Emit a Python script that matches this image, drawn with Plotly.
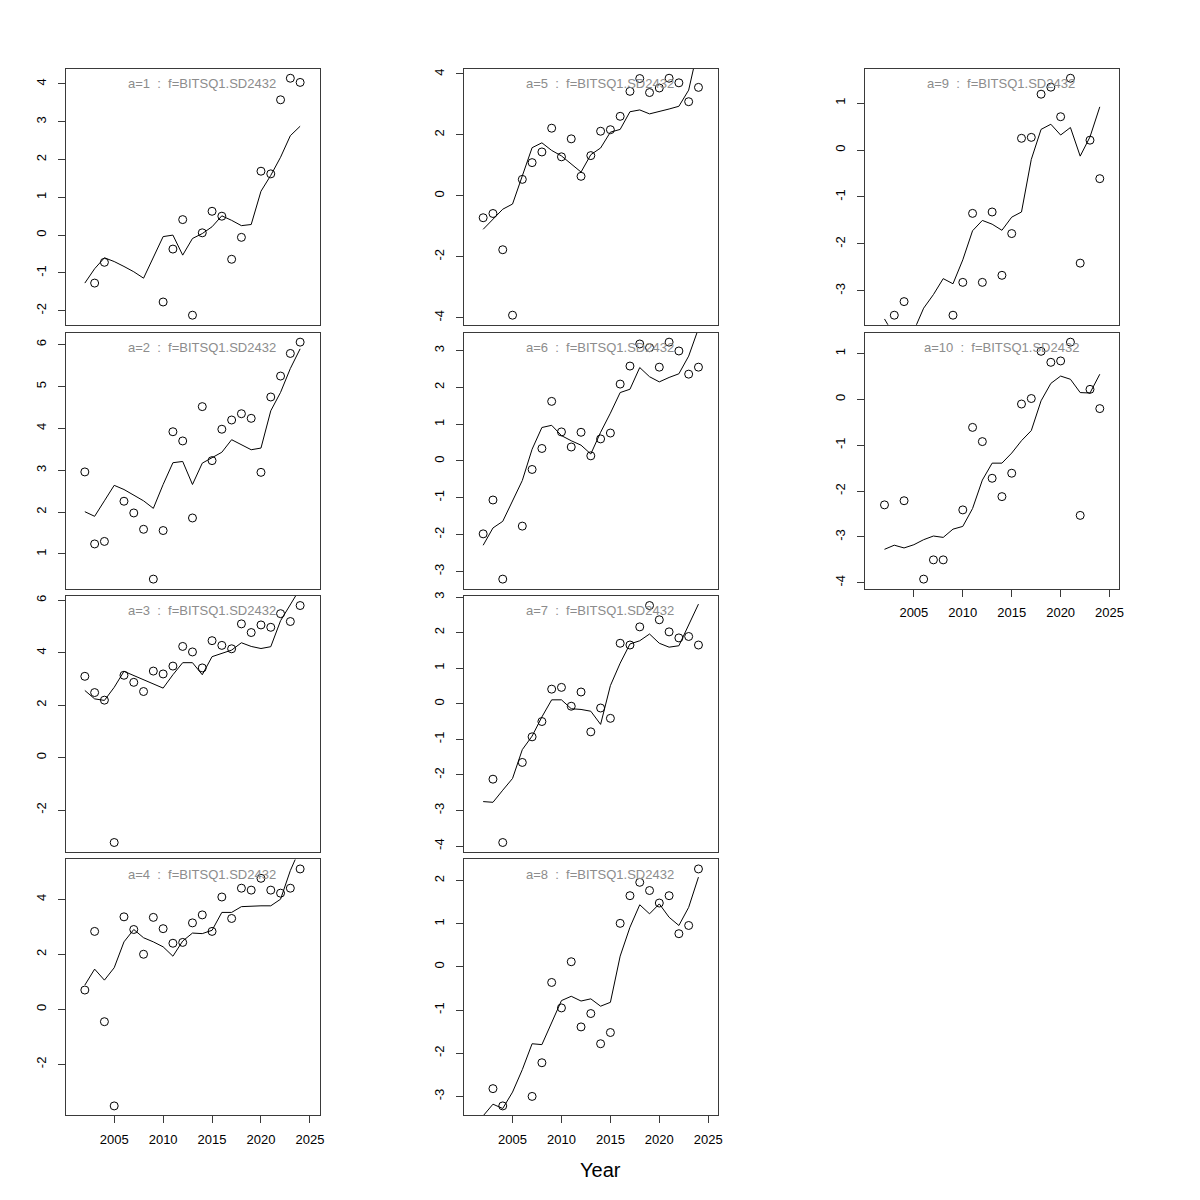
import math
import plotly.graph_objects as go

years = list(range(2002, 2025))
N = None

# observed points (open circles)
obs_a1 = [N, -1.27, -0.72, N, N, N, N, N, -1.77, -0.37, 0.41, -2.12, 0.06, 0.63, 0.50, -0.64, -0.06, N, 1.69, 1.62, 3.58, 4.15, 4.04]
obs_a2 = [2.96, 1.24, 1.30, N, 2.26, 1.98, 1.59, 0.40, 1.56, 3.92, 3.70, 1.86, 4.52, 3.23, 3.98, 4.20, 4.35, 4.24, 2.95, 4.75, 5.25, 5.79, 6.06]
obs_a3 = [3.10, 2.48, 2.19, -3.24, 3.14, 2.87, 2.52, 3.30, 3.19, 3.49, 4.24, 4.03, 3.42, 4.46, 4.28, 4.15, 5.10, 4.77, 5.06, 4.97, 5.49, 5.19, 5.80]
obs_a4 = [0.70, 2.83, -0.45, -3.51, 3.36, 2.90, 2.00, 3.34, 2.93, 2.40, 2.43, 3.14, 3.43, 2.83, 4.08, 3.30, 4.40, 4.33, 4.76, 4.33, 4.22, 4.40, 5.10]
obs_a5 = [-0.72, -0.58, -1.77, -3.92, 0.54, 1.09, 1.44, 2.22, 1.28, 1.87, 0.64, 1.32, 2.12, 2.17, 2.61, 3.43, 3.85, 3.39, 3.54, 3.86, 3.71, 3.09, 3.56]
obs_a6 = [-1.98, -1.06, -3.21, N, -1.77, -0.23, 0.34, 1.62, 0.79, 0.38, 0.78, 0.14, 0.60, 0.76, 2.09, 2.58, 3.18, 3.08, 2.55, 3.23, 2.99, 2.36, 2.55]
obs_a7 = [N, -2.12, -3.90, N, -1.65, -0.93, -0.50, 0.41, 0.46, -0.07, 0.33, -0.79, -0.12, -0.41, 1.70, 1.65, 2.16, 2.76, 2.36, 2.02, 1.85, 1.89, 1.65]
obs_a8 = [N, -2.82, -3.22, N, N, -3.00, -2.22, -0.36, -0.95, 0.12, -1.39, -1.08, -1.78, -1.52, 1.01, 1.65, 1.96, 1.77, 1.48, 1.65, 0.77, 0.96, 2.27]
obs_a9 = [N, -3.52, -3.23, N, N, N, N, -3.52, -2.82, -1.35, -2.82, -1.32, -2.67, -1.78, 0.25, 0.27, 1.19, 1.34, 0.71, 1.53, -2.41, 0.21, -0.61]
obs_a10 = [-2.30, N, -2.21, N, -3.92, -3.50, -3.50, N, -2.41, -0.61, -0.92, -1.72, -2.12, -1.61, -0.10, 0.02, 1.05, 0.81, 0.84, 1.25, -2.53, 0.22, -0.20]

# fitted lines
fit_a1 = [-1.27, -0.89, -0.60, -0.70, -0.83, -0.97, -1.14, -0.57, -0.04, 0.00, -0.53, -0.09, 0.04, 0.22, 0.51, 0.39, 0.25, 0.28, 1.16, 1.58, 2.06, 2.63, 2.88]
fit_a2 = [2.01, 1.90, 2.27, 2.64, 2.54, 2.40, 2.27, 2.09, 2.66, 3.18, 3.21, 2.66, 3.17, 3.30, 3.43, 3.73, 3.61, 3.49, 3.53, 4.42, 4.86, 5.43, 5.90]
fit_a3 = [2.56, 2.24, 2.18, 2.68, 3.29, 3.13, 2.94, 2.81, 2.65, 3.16, 3.62, 3.62, 3.16, 3.85, 3.99, 4.10, 4.38, 4.24, 4.16, 4.23, 5.22, 5.85, 6.45]
fit_a4 = [0.88, 1.46, 1.06, 1.51, 2.45, 2.90, 2.60, 2.45, 2.27, 1.93, 2.48, 2.77, 2.75, 2.87, 3.52, 3.52, 3.73, 3.75, 3.76, 3.76, 4.00, 5.04, 5.85]
fit_a5 = [-1.10, -0.77, -0.44, -0.27, 0.67, 1.58, 1.74, 1.49, 1.31, 1.06, 0.78, 1.35, 1.57, 2.09, 2.18, 2.76, 2.82, 2.69, 2.76, 2.85, 2.94, 3.47, 4.90]
fit_a6 = [-2.29, -1.82, -1.64, -1.07, -0.53, 0.32, 0.91, 0.97, 0.69, 0.55, 0.43, 0.19, 0.78, 1.30, 1.86, 1.95, 2.54, 2.29, 2.15, 2.27, 2.37, 2.85, 3.60]
fit_a7 = [-2.75, -2.77, -2.43, -2.10, -1.29, -0.91, -0.37, 0.11, 0.11, -0.14, -0.16, -0.21, -0.58, 0.51, 1.14, 1.68, 1.77, 1.96, 1.70, 1.59, 1.63, 2.24, 2.80]
fit_a8 = [-3.45, -3.18, -3.28, -2.90, -2.38, -1.78, -1.80, -1.27, -0.78, -0.68, -0.79, -0.74, -0.91, -0.82, 0.25, 0.92, 1.44, 1.23, 1.46, 1.15, 0.96, 1.38, 2.08]
fit_a9 = [-3.60, -3.95, -4.05, -3.85, -3.37, -3.08, -2.74, -2.85, -2.34, -1.72, -1.50, -1.58, -1.71, -1.43, -1.32, -0.20, 0.44, 0.55, 0.32, 0.48, -0.13, 0.28, 0.92]
fit_a10 = [-3.27, -3.18, -3.24, -3.17, -3.06, -2.98, -3.01, -2.83, -2.77, -2.38, -1.76, -1.39, -1.39, -1.17, -0.90, -0.68, -0.03, 0.35, 0.51, 0.44, 0.15, 0.14, 0.55]

labels = ["a=%d  :  f=BITSQ1.SD2432" % i for i in range(1, 11)]
x_ticks = [2005, 2010, 2015, 2020, 2025]
y_dticks = [1, 1, 2, 2, 2, 1, 1, 1, 1, 1]

obs = [obs_a1, obs_a2, obs_a3, obs_a4, obs_a5, obs_a6, obs_a7, obs_a8, obs_a9, obs_a10]
fit = [fit_a1, fit_a2, fit_a3, fit_a4, fit_a5, fit_a6, fit_a7, fit_a8, fit_a9, fit_a10]

W = H = 1200
col_left = [58, 458, 861]
pw = 255
row_top = [56, 321, 585.5, 850]
ph = 257
# column-major placement (4 rows per column, 3rd column has 2 panels)
pos = [(0, 0), (0, 1), (0, 2), (0, 3), (1, 0), (1, 1), (1, 2), (1, 3), (2, 0), (2, 1)]
bottom_panels = {3, 7, 9}
FONT = "Liberation Sans, Arial, Helvetica"

fig = go.Figure()
axcol = "#3a3a3a"
for i in range(10):
    c, r = pos[i]
    xs = "" if i == 0 else str(i + 1)
    x0 = col_left[c] / W
    x1 = (col_left[c] + pw) / W
    y1 = 1 - row_top[r] / H
    y0 = 1 - (row_top[r] + ph) / H
    vals = [v for v in obs[i] if v is not None]
    lo, hi = min(vals), max(vals)
    ext = 0.04 * (hi - lo)
    rng = [lo - ext, hi + ext]
    d = y_dticks[i]
    tv = [k * d for k in range(math.ceil(rng[0] / d), math.floor(rng[1] / d) + 1)]
    tt = [str(int(v)) for v in tv]
    fig.add_trace(go.Scatter(x=years, y=fit[i], mode="lines",
                             line=dict(color="black", width=1),
                             xaxis="x" + xs, yaxis="y" + xs, showlegend=False,
                             hoverinfo="skip"))
    fig.add_trace(go.Scatter(x=years, y=obs[i], mode="markers",
                             marker=dict(symbol="circle-open", size=8,
                                         color="black", line=dict(width=1)),
                             xaxis="x" + xs, yaxis="y" + xs, showlegend=False,
                             cliponaxis=False))
    show_x = i in bottom_panels
    fig.layout["xaxis" + xs] = dict(
        domain=[x0, x1], anchor="y" + xs, range=[2000.05, 2026.0],
        showgrid=False, zeroline=False, showline=True, mirror=True,
        linecolor=axcol, linewidth=1,
        ticks="outside" if show_x else "", ticklen=7, tickcolor=axcol,
        tickvals=x_ticks if show_x else [], showticklabels=show_x,
        ticklabelstandoff=5,
        tickfont=dict(family=FONT, size=13, color="black"),
    )
    fig.layout["yaxis" + xs] = dict(
        domain=[y0, y1], anchor="x" + xs, range=rng,
        showgrid=False, zeroline=False, showline=True, mirror=True,
        linecolor=axcol, linewidth=1,
        ticks="outside", ticklen=7, tickcolor=axcol,
        tickvals=tv, ticktext=tt, tickangle=-90,
        ticklabelstandoff=7,
        tickfont=dict(family=FONT, size=13, color="black"),
    )
    fig.add_annotation(text=labels[i], xref="x" + xs + " domain", yref="y" + xs + " domain",
                       x=0.535, y=1 - 15 / ph, xanchor="center", yanchor="middle",
                       showarrow=False,
                       font=dict(family=FONT, size=13, color="#8c8c8c"))

fig.add_annotation(text="Year", xref="paper", yref="paper", x=595 / W, y=1 - 1162 / H,
                   xanchor="center", yanchor="middle", showarrow=False,
                   font=dict(family=FONT, size=20, color="black"))

fig.update_layout(width=W, height=H, margin=dict(l=0, r=0, t=0, b=0),
                  paper_bgcolor="white", plot_bgcolor="white")
fig.write_html("out.html")
